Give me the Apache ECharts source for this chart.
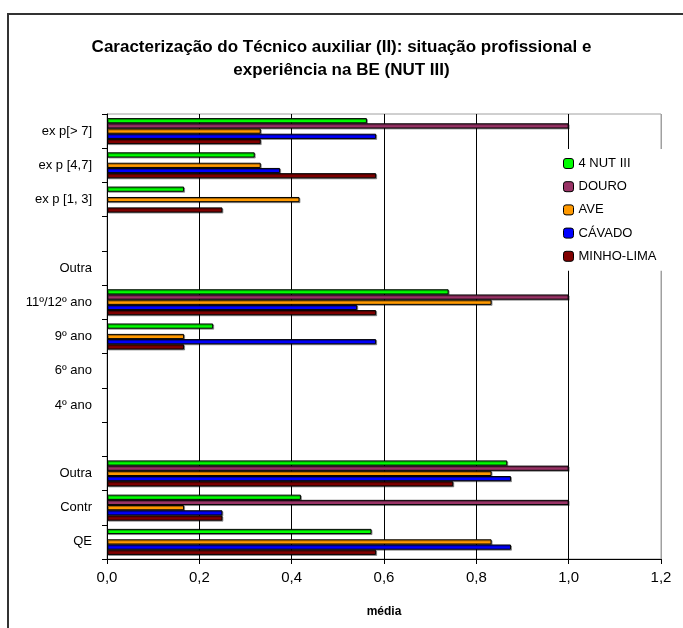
<!DOCTYPE html>
<html>
<head>
<meta charset="utf-8">
<script src="https://cdn.jsdelivr.net/npm/echarts@6/dist/echarts.min.js"></script>
<style>
  html, body { margin: 0; padding: 0; background: #fff; }
  #chart { width: 683px; height: 628px; }
</style>
</head>
<body>
<div id="chart"></div>
<script>
// categorias de baixo para cima (eixo y)
var categories = ["QE", "Contr", "Outra", "", "4º ano", "6º ano", "9º ano", "11º/12º ano", "Outra", " ", "ex p [1, 3]", "ex p [4,7]", "ex p[> 7]"];
var seriesNames = ["4 NUT III", "DOURO", "AVE", "CÁVADO", "MINHO-LIMA"];
var seriesColors = ["#00ff00", "#993366", "#ff9900", "#0000ff", "#800000"];

var nut3      = [0.573, 0.42, 0.867, 0, 0, 0, 0.23, 0.74, 0, 0, 0.167, 0.32, 0.563];
var douro     = [0, 1.0, 1.0, 0, 0, 0, 0, 1.0, 0, 0, 0, 0, 1.0];
var ave       = [0.833, 0.167, 0.833, 0, 0, 0, 0.167, 0.833, 0, 0, 0.417, 0.333, 0.333];
var cavado    = [0.875, 0.25, 0.875, 0, 0, 0, 0.583, 0.542, 0, 0, 0, 0.375, 0.583];
var minhoLima = [0.583, 0.25, 0.75, 0, 0, 0, 0.167, 0.583, 0, 0, 0.25, 0.583, 0.333];

var chart = echarts.init(document.getElementById("chart"));
var font = "Liberation Sans, Arial, sans-serif";
var allData = [nut3, douro, ave, cavado, minhoLima];

var series = [];
for (var i = 0; i < seriesNames.length; i++) {
  series.push({
    name: seriesNames[i],
    type: "bar",
    // sem barra quando o valor é zero
    data: allData[i].map(function (v) { return v === 0 ? null : v; }),
    barGap: "0%",
    barCategoryGap: "24%",
    itemStyle: {
      color: seriesColors[i],
      borderColor: "#000",
      borderWidth: 1,
      shadowColor: "rgba(0,0,0,0.35)",
      shadowOffsetX: 1,
      shadowOffsetY: 1
    },
    animation: false
  });
}

var option = {
  backgroundColor: "#fff",
  animation: false,
  title: {
    text: "Caracterização do Técnico auxiliar (II): situação profissional e\nexperiência na BE (NUT III)",
    left: "center",
    top: 31,
    textStyle: {
      fontFamily: font,
      fontSize: 17,
      fontWeight: "bold",
      color: "#000",
      lineHeight: 23
    }
  },
  legend: {
    orient: "vertical",
    left: 557,
    top: 149,
    padding: [8, 8, 8, 6],
    backgroundColor: "#fff",
    itemWidth: 10,
    itemHeight: 10,
    itemGap: 10.2,
    data: seriesNames,
    textStyle: { fontFamily: font, fontSize: 13, color: "#000" },
    itemStyle: { borderColor: "#000", borderWidth: 1, shadowColor: "transparent" }
  },
  grid: {
    left: 107,
    right: 22,
    top: 114,
    bottom: 69,
    show: true,
    backgroundColor: "#fff",
    borderColor: "#a0a0a0",
    borderWidth: 1
  },
  xAxis: {
    type: "value",
    min: 0,
    max: 1.2,
    interval: 0.2,
    name: "média",
    nameLocation: "middle",
    nameGap: 47,
    nameTextStyle: { fontFamily: font, fontSize: 12, fontWeight: "bold", color: "#000" },
    axisLine: { show: true, lineStyle: { color: "#000" } },
    axisTick: { show: true, length: 5, lineStyle: { color: "#000" } },
    axisLabel: {
      fontFamily: font,
      fontSize: 15,
      color: "#000",
      margin: 11,
      formatter: function (v) { return v.toFixed(1).replace(".", ","); }
    },
    splitLine: {
      show: true,
      lineStyle: { color: ["#000", "#000", "#000", "#000", "#000", "#000", "#a0a0a0"], width: 1 }
    }
  },
  yAxis: {
    type: "category",
    data: categories,
    axisLine: { show: true, lineStyle: { color: "#000" } },
    axisTick: { show: true, length: 5, lineStyle: { color: "#000" } },
    axisLabel: { fontFamily: font, fontSize: 13, color: "#000", margin: 15, interval: 0 },
    splitLine: { show: false }
  },
  graphic: [{
    type: "rect",
    shape: { x: 8, y: 14, width: 720, height: 700 },
    style: { fill: "none", stroke: "#333", lineWidth: 2 },
    silent: true,
    z: 100
  }],
  series: series
};

chart.setOption(option);
</script>
</body>
</html>
